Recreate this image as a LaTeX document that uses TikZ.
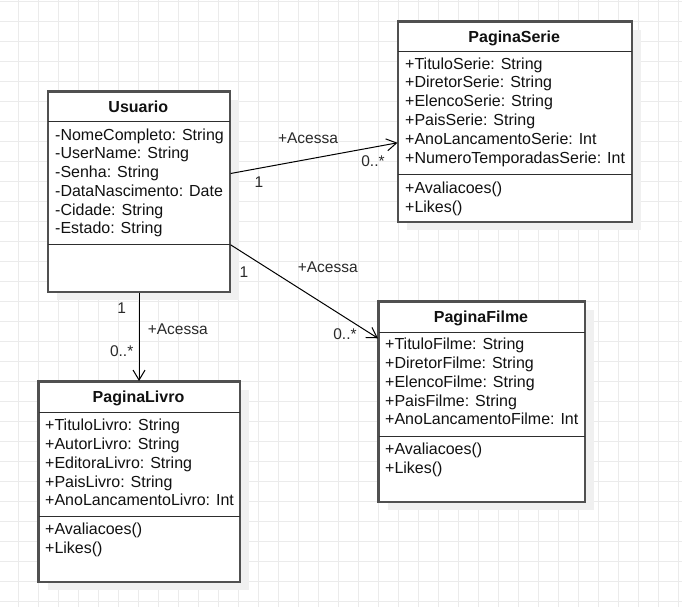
\documentclass[tikz,border=0pt]{standalone}
\usepackage{fontspec}
\setmainfont{Liberation Sans}
\usetikzlibrary{arrows.meta,shadows}
\definecolor{gridc}{HTML}{EBEBEB}
\definecolor{shadowc}{HTML}{F0F0F0}
\definecolor{boxc}{HTML}{505050}
\definecolor{divc}{HTML}{2E2E2E}
\definecolor{textc}{HTML}{111111}
\definecolor{labc}{HTML}{2A2A2A}
\begin{document}
\begin{tikzpicture}[x=1pt,y=-1pt,
  box/.style={draw=boxc, line width=1.6pt, fill=white, anchor=north west, inner sep=0pt,
    minimum height=200pt,
    drop shadow={shadow xshift=9pt, shadow yshift=-8pt, fill=shadowc, opacity=1}},
  divider/.style={draw=divc, line width=1pt},
  txt/.style={anchor=west, inner sep=0pt, text height=11.5pt, text depth=0pt, text=textc,
    font=\fontsize{16}{19}\selectfont},
  head/.style={anchor=center, inner sep=0pt, text height=11.5pt, text depth=0pt, text=textc,
    font=\fontsize{16}{19}\selectfont\bfseries},
  lab/.style={anchor=center, inner sep=0pt, text height=11.5pt, text depth=0pt, text=labc,
    font=\fontsize{15.5}{19}\selectfont},
  conn/.style={draw=black, line width=1pt, -{Straight Barb[length=10pt,width=12pt,line width=1pt]}}
]
\useasboundingbox (0,0) rectangle (682,607);
\fill[white] (0,0) rectangle (682,607);
% grid
\foreach \gx in {18.3,38.3,...,682} {\draw[gridc, line width=0.9pt] (\gx,0) -- (\gx,607);}
\foreach \gy in {1.7,21.7,...,607} {\draw[gridc, line width=0.9pt] (0,\gy) -- (682,\gy);}

% boxes
\node[box, minimum width=181.5pt] (usu) at (47.5,91) {};
\node[box, minimum width=233.5pt] (serie) at (397.5,21) {};
\node[box, minimum width=201pt] (livro) at (38,381) {};
\node[box, minimum width=206pt] (filme) at (378,301) {};

% dividers
\draw[divider] ([yshift=-31pt]usu.north west) -- ([yshift=-31pt]usu.north east);
\draw[divider] ([yshift=-153pt]usu.north west) -- ([yshift=-153pt]usu.north east);
\draw[divider] ([yshift=-31pt]serie.north west) -- ([yshift=-31pt]serie.north east);
\draw[divider] ([yshift=-153pt]serie.north west) -- ([yshift=-153pt]serie.north east);
\draw[divider] ([yshift=-31pt]livro.north west) -- ([yshift=-31pt]livro.north east);
\draw[divider] ([yshift=-135pt]livro.north west) -- ([yshift=-135pt]livro.north east);
\draw[divider] ([yshift=-31pt]filme.north west) -- ([yshift=-31pt]filme.north east);
\draw[divider] ([yshift=-135pt]filme.north west) -- ([yshift=-135pt]filme.north east);
% redraw borders above dividers
\draw[draw=boxc, line width=1.6pt] (usu.north west) rectangle (usu.south east);
\draw[draw=boxc, line width=1.6pt] (serie.north west) rectangle (serie.south east);
\draw[draw=boxc, line width=1.6pt] (livro.north west) rectangle (livro.south east);
\draw[draw=boxc, line width=1.6pt] (filme.north west) rectangle (filme.south east);

% headers
\node[head] (usu-h) at (138.25,106.5) {Usuario};
\node[head] (serie-h) at (514.25,36.5) {PaginaSerie};
\node[head] (livro-h) at (138.5,396.7) {PaginaLivro};
\node[head] (filme-h) at (481,316.3) {PaginaFilme};

% Usuario attributes
\foreach \t [count=\i from 0] in {-NomeCompleto: String,-UserName: String,-Senha: String,-DataNascimento: Date,-Cidade: String,-Estado: String}
  {\node[txt] (usu-a\i) at (55,134.3+18.75*\i) {\t};}

% PaginaSerie
\foreach \t [count=\i from 0] in {+TituloSerie: String,+DiretorSerie: String,+ElencoSerie: String,+PaisSerie: String,+AnoLancamentoSerie: Int,+NumeroTemporadasSerie: Int}
  {\node[txt] (serie-a\i) at (405,63.3+18.95*\i) {\t};}
\foreach \t [count=\i from 0] in {+Avaliacoes(),+Likes()}
  {\node[txt] (serie-m\i) at (405,187.7+19*\i) {\t};}

% PaginaLivro
\foreach \t [count=\i from 0] in {+TituloLivro: String,+AutorLivro: String,+EditoraLivro: String,+PaisLivro: String,+AnoLancamentoLivro: Int}
  {\node[txt] (livro-a\i) at (45,425+18.75*\i) {\t};}
\foreach \t [count=\i from 0] in {+Avaliacoes(),+Likes()}
  {\node[txt] (livro-m\i) at (45,528.5+19.2*\i) {\t};}

% PaginaFilme
\foreach \t [count=\i from 0] in {+TituloFilme: String,+DiretorFilme: String,+ElencoFilme: String,+PaisFilme: String,+AnoLancamentoFilme: Int}
  {\node[txt] (filme-a\i) at (385,344+18.8*\i) {\t};}
\foreach \t [count=\i from 0] in {+Avaliacoes(),+Likes()}
  {\node[txt] (filme-m\i) at (385,448.3+19*\i) {\t};}

% connectors
\draw[conn] ([yshift=18.3pt]usu.east) -- ([yshift=-21pt]serie.west);
\draw[conn] ([yshift=-53pt]usu.east) -- ([yshift=63.5pt]filme.west);
\draw[conn] (usu.south) -- (usu.south |- livro.north);

% labels
\node[lab] (l1a) at (308,137.7) {+Acessa};
\node[lab] (l1s) at (259,181.7) {1};
\node[lab] (l1e) at (373,161) {0..*};
\node[lab] (l2a) at (327.7,266.7) {+Acessa};
\node[lab] (l2s) at (244,272) {1};
\node[lab] (l2e) at (345,333.3) {0..*};
\node[lab] (l3s) at (121.7,307.7) {1};
\node[lab] (l3a) at (177.7,328.3) {+Acessa};
\node[lab] (l3e) at (121.7,350.7) {0..*};
\end{tikzpicture}
\end{document}
